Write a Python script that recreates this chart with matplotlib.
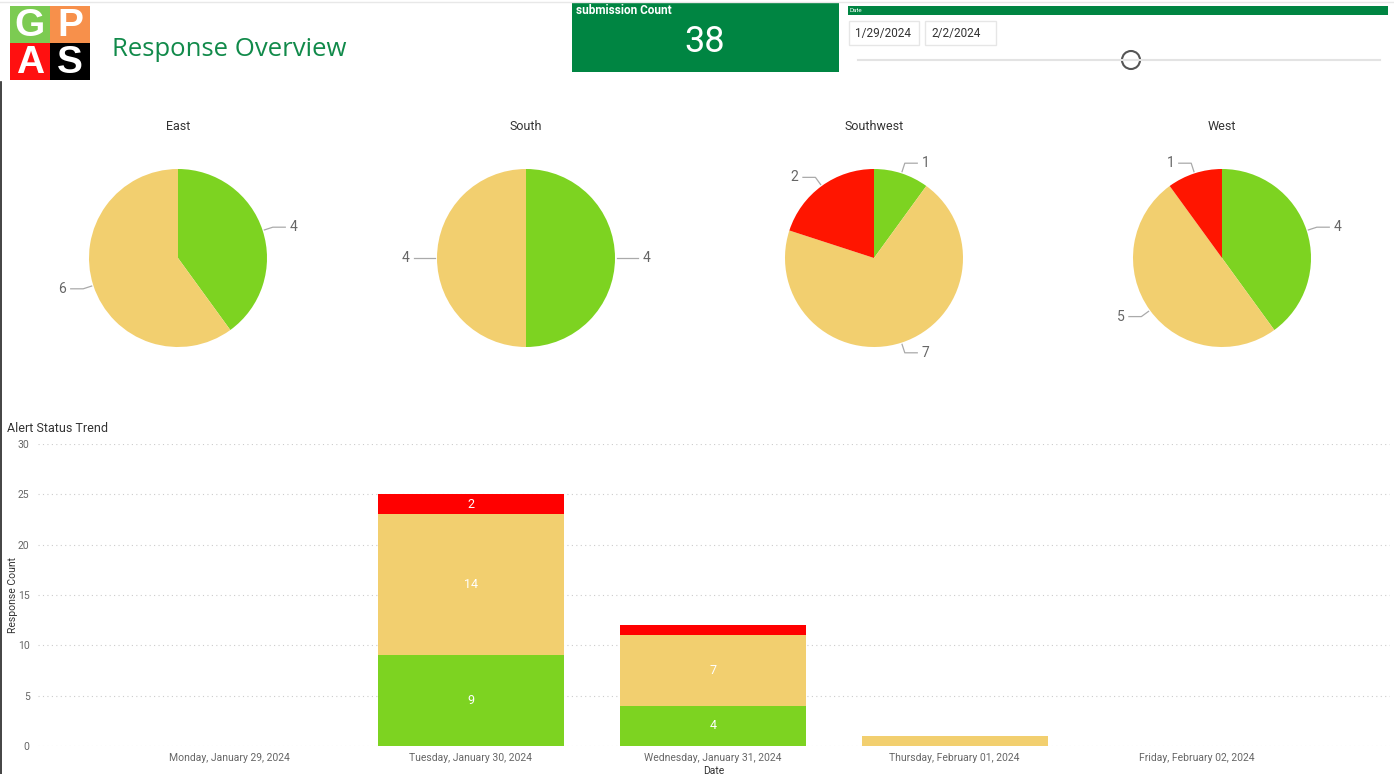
import numpy as np
import matplotlib
matplotlib.use('Agg')
import matplotlib.pyplot as plt
from matplotlib.patches import Rectangle, Circle

plt.rcParams['font.family'] = ['Roboto', 'DejaVu Sans']

# ---- data ----
regions = ['East', 'South', 'Southwest', 'West']
region_green = [4, 4, 1, 4]
region_yellow = [6, 4, 7, 5]
region_red = [0, 0, 2, 1]

dates = ['Monday, January 29, 2024', 'Tuesday, January 30, 2024',
         'Wednesday, January 31, 2024', 'Thursday, February 01, 2024',
         'Friday, February 02, 2024']
trend_green = [0, 9, 4, 0, 0]
trend_yellow = [0, 14, 7, 1, 0]
trend_red = [0, 2, 1, 0, 0]

date_from = '1/29/2024'
date_to = '2/2/2024'

GREEN = '#7DD321'
YELLOW = '#F2CF6F'
RED = '#FF1500'
BAR_RED = '#FF0000'
DARK_GREEN = '#008542'

W, H = 1394, 774
fig = plt.figure(figsize=(W / 100, H / 100), dpi=100)


def ax_px(x0, y0, x1, y1, **kw):
    return fig.add_axes([x0 / W, 1 - y1 / H, (x1 - x0) / W, (y1 - y0) / H], **kw)


# ---- header (layout canvas) ----
bg = ax_px(0, 0, W, H)
bg.set_xlim(0, W)
bg.set_ylim(H, 0)
bg.axis('off')
bg.plot([0, W], [2, 2], color='#e8e8e8', lw=1)
bg.plot([0.5, 0.5], [82, H], color='#222222', lw=1.2)

# logo
logo = [('G', '#7CCB52', 10, 6), ('P', '#F7904B', 50, 6),
        ('A', '#FF1010', 10, 43), ('S', '#000000', 50, 43)]
for ch, col, lx, ly in logo:
    bg.add_patch(Rectangle((lx, ly), 40, 37, color=col, lw=0))
    bg.text(lx + 20, ly + 20, ch, color='white', fontsize=28, fontweight='bold',
            ha='center', va='center', family='Liberation Sans')

bg.text(112, 49, 'Response Overview', color='#118A4A', fontsize=18.5,
        ha='left', va='center', family='Open Sans')

# submission card
bg.add_patch(Rectangle((572, 3), 267, 69, color=DARK_GREEN, lw=0))
bg.text(576, 10, 'submission Count', color='white', fontsize=8.5,
        fontweight='bold', ha='left', va='center')
total = sum(region_green) + sum(region_yellow) + sum(region_red)
bg.text(705, 42, str(total), color='white', fontsize=26, ha='center', va='center')

# date slicer
bg.add_patch(Rectangle((848, 6), 540, 9, color=DARK_GREEN, lw=0))
bg.text(850, 10.5, 'Date', color='white', fontsize=4.5, ha='left', va='center')
for bx_, bw_, txt in [(849, 70, date_from), (925, 71, date_to)]:
    bg.add_patch(Rectangle((bx_, 21), bw_, 24, facecolor='white',
                           edgecolor='#e6e6e6', lw=1))
    bg.text(bx_ + 6, 34, txt, color='#333333', fontsize=8.5, ha='left', va='center')
bg.plot([858, 1380], [60, 60], color='#e3e3e3', lw=1.5)
bg.add_patch(Circle((1131, 60), 9, facecolor='white', edgecolor='#555555', lw=1.5))

# ---- pies ----
pie_cx = [178, 526, 874, 1222]
pie_cy = 258
pie_r = 89
half = 150
for i, name in enumerate(regions):
    cx = pie_cx[i]
    ax = ax_px(cx - half, pie_cy - half, cx + half, pie_cy + half)
    lim = half / pie_r
    vals = [region_green[i], region_yellow[i], region_red[i]]
    cols = [GREEN, YELLOW, RED]
    keep = [(v, c) for v, c in zip(vals, cols) if v > 0]
    v = [k[0] for k in keep]
    c = [k[1] for k in keep]
    ax.pie(v, colors=c, startangle=90, counterclock=False, radius=1,
           wedgeprops=dict(linewidth=0))
    ax.set_xlim(-lim, lim)
    ax.set_ylim(-lim, lim)
    ax.set_aspect('equal')
    ax.axis('off')
    tot = sum(v)
    start = 0.0
    for val in v:
        mid = np.deg2rad((start + val / 2) / tot * 360)
        start += val
        dx, dy = np.sin(mid), np.cos(mid)
        p0 = (1.02 * dx, 1.02 * dy)
        p1 = (1.12 * dx, 1.12 * dy)
        sgn = 1 if dx >= 0 else -1
        p2 = (p1[0] + sgn * 0.14, p1[1])
        ax.plot([p0[0], p1[0], p2[0]], [p0[1], p1[1], p2[1]], color='#aaaaaa', lw=0.9)
        ax.text(p2[0] + sgn * 0.05, p2[1], str(val), color='#666666', fontsize=10,
                ha='left' if sgn > 0 else 'right', va='center')
    bg.text(cx, 126, name, color='#333333', fontsize=9, ha='center', va='center')

# ---- stacked bar trend ----
bg.text(7, 428, 'Alert Status Trend', color='#333333', fontsize=9,
        ha='left', va='center')
bg.text(13, 595, 'Response Count', color='#333333', fontsize=7.5,
        ha='center', va='center', rotation=90)
bx = ax_px(38, 444, 1390, 746)
x = np.arange(len(dates))
bw = 0.77
g = np.array(trend_green)
y = np.array(trend_yellow)
r = np.array(trend_red)
bx.bar(x, g, bw, color=GREEN, zorder=2)
bx.bar(x, y, bw, bottom=g, color=YELLOW, zorder=2)
bx.bar(x, r, bw, bottom=g + y, color=BAR_RED, zorder=2)
for xi in x:
    for val, bot in [(g[xi], 0), (y[xi], g[xi]), (r[xi], g[xi] + y[xi])]:
        if val >= 2:
            bx.text(xi, bot + val / 2, str(val), color='white', fontsize=9,
                    ha='center', va='center', zorder=3)
bx.set_xlim(-0.79, 4.8)
bx.set_ylim(0, 30)
bx.set_yticks(range(0, 31, 5))
bx.set_xticks(x)
bx.set_xticklabels(dates)
bx.yaxis.grid(True, linestyle=(0, (1, 3)), color='#cccccc', lw=0.8, zorder=0)
bx.tick_params(axis='both', length=0, labelsize=7.5, labelcolor='#666666')
bx.tick_params(axis='y', pad=6)
bx.tick_params(axis='x', pad=5)
for s in bx.spines.values():
    s.set_visible(False)
bx.set_facecolor('none')
bx.set_xlabel('Date', fontsize=7.5, color='#333333', labelpad=2)

fig.savefig('out.png', dpi=100)
